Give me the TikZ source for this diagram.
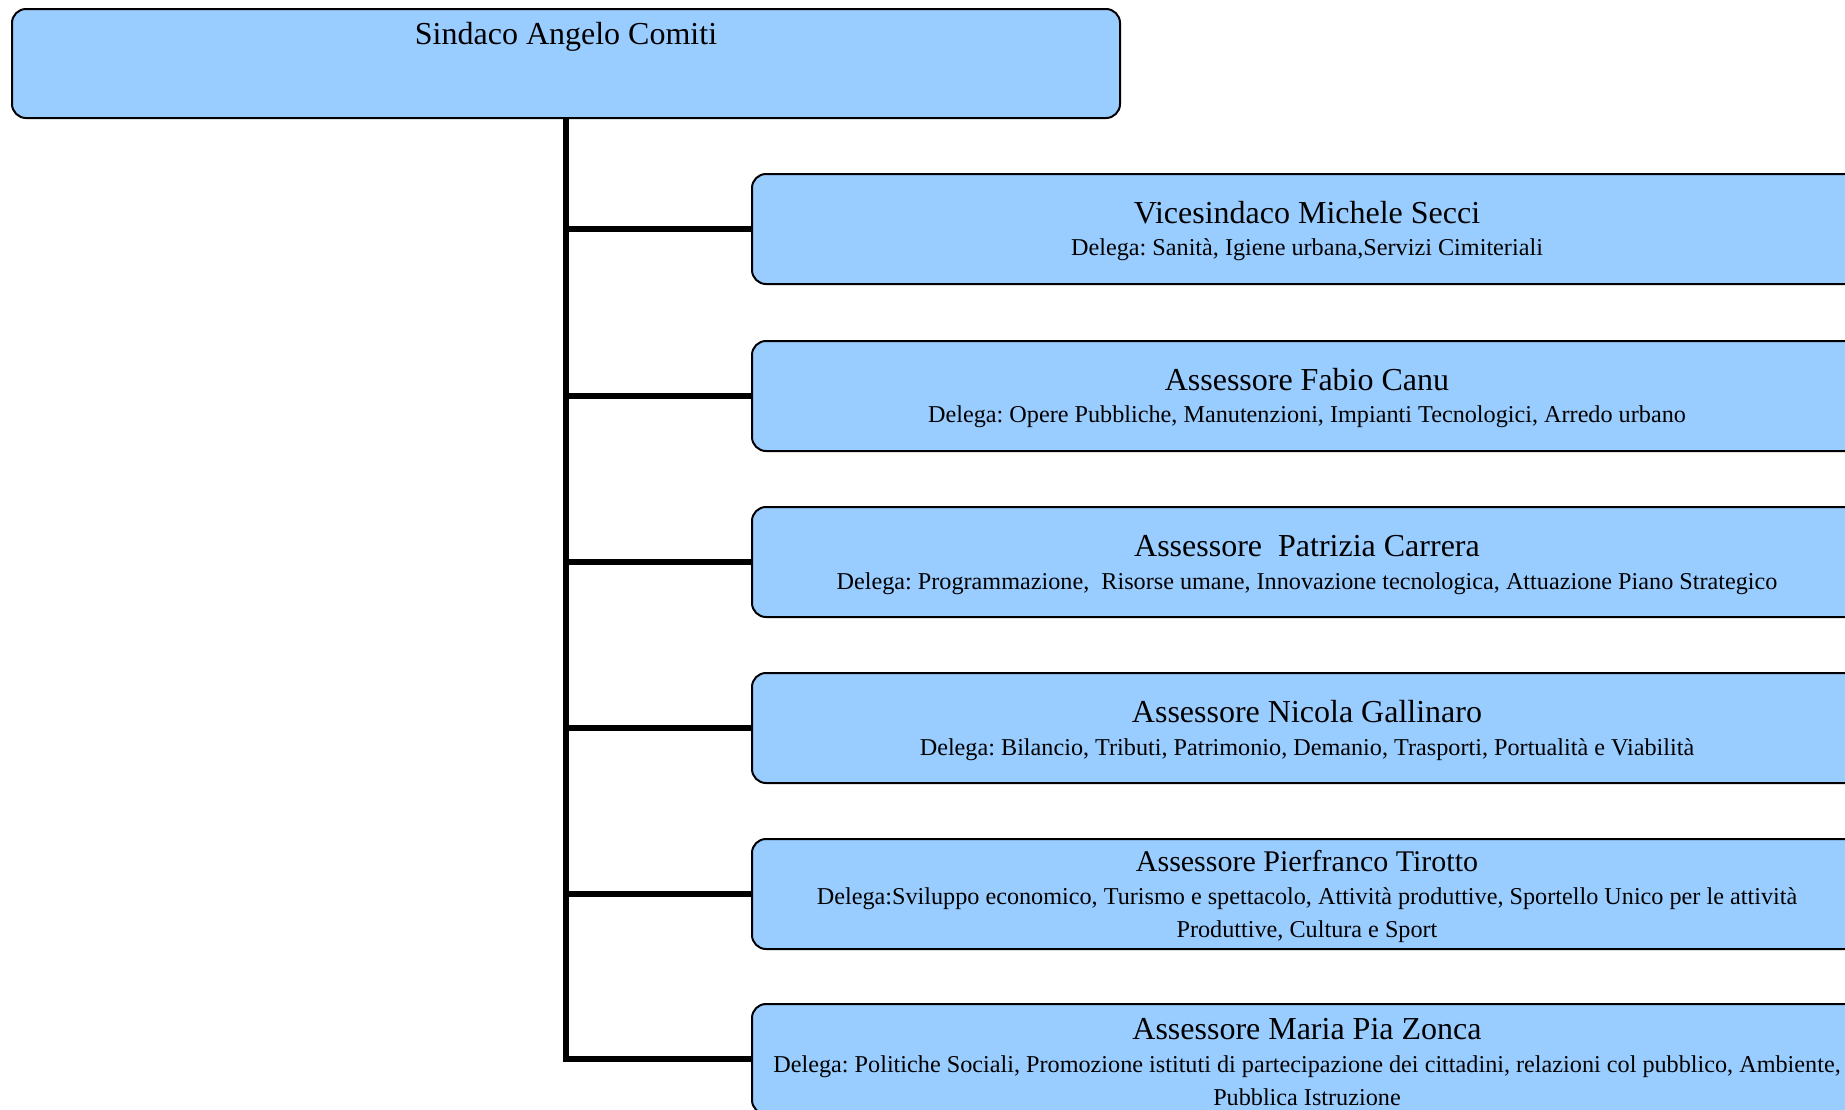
\documentclass[tikz,border=0pt]{standalone}
\usepackage{fontspec}
\setmainfont{Liberation Serif}
\usepackage{tikz}
\usetikzlibrary{positioning}
\frenchspacing

\begin{document}
\begin{tikzpicture}[x=0.5pt,y=-0.5pt,
    box/.style={draw=black,line width=1pt,fill=boxblue,rounded corners=7pt,
      minimum width=555pt,minimum height=55pt,inner sep=2pt,align=center,
      font=\fontsize{12.1}{16.5}\selectfont},
    trunk/.style={line width=3pt}]
  \definecolor{boxblue}{RGB}{153,204,255}
  \newcommand\boxtitle[2][16]{{\fontsize{#1}{19}\selectfont\rule{0pt}{13.3pt}#2}}
  \useasboundingbox (0,0) rectangle (1845,1109);
  \node[box,minimum width=554pt,minimum height=54.5pt] (sindaco) at (566,63.5) {};
  \node[anchor=base,font=\fontsize{16}{19}\selectfont] (sindacot) at ([yshift=-18.2pt]sindaco.north) {Sindaco Angelo Comiti};
  \node[box,anchor=west] (secci) at (751,229) {\boxtitle{Vicesindaco Michele Secci}\\[-0.2pt]
    Delega: Sanità, Igiene urbana,Servizi Cimiteriali};
  \node[box,anchor=west] (canu) at (751,396) {\boxtitle{Assessore Fabio Canu}\\[-0.2pt]
    Delega: Opere Pubbliche, Manutenzioni, Impianti Tecnologici, Arredo urbano};
  \node[box,anchor=west] (carrera) at (751,562) {\boxtitle{Assessore~ Patrizia Carrera}\\[-0.2pt]
    Delega: Programmazione,~ Risorse umane, Innovazione tecnologica, Attuazione Piano Strategico};
  \node[box,anchor=west] (gallinaro) at (751,728) {\boxtitle{Assessore Nicola Gallinaro}\\[-0.2pt]
    Delega: Bilancio, Tributi, Patrimonio, Demanio, Trasporti, Portualità e Viabilità};
  \node[box,anchor=west] (tirotto) at (751,894) {\boxtitle[15]{Assessore Pierfranco Tirotto}\\
    Delega:Sviluppo economico, Turismo e spettacolo, Attività produttive, Sportello Unico per le attività\\
    Produttive, Cultura e Sport};
  \node[box,anchor=west] (zonca) at (751,1059) {\boxtitle{Assessore Maria Pia Zonca}\\[-0.2pt]
    Delega: Politiche Sociali, Promozione istituti di partecipazione dei cittadini, relazioni col pubblico, Ambiente,\\
    Pubblica Istruzione};
  \draw[trunk] (sindaco.south) |- (zonca.west);
  \draw[trunk] (sindaco.south |- secci.west) -- (secci.west);
  \draw[trunk] (sindaco.south |- canu.west) -- (canu.west);
  \draw[trunk] (sindaco.south |- carrera.west) -- (carrera.west);
  \draw[trunk] (sindaco.south |- gallinaro.west) -- (gallinaro.west);
  \draw[trunk] (sindaco.south |- tirotto.west) -- (tirotto.west);
\end{tikzpicture}
\end{document}
